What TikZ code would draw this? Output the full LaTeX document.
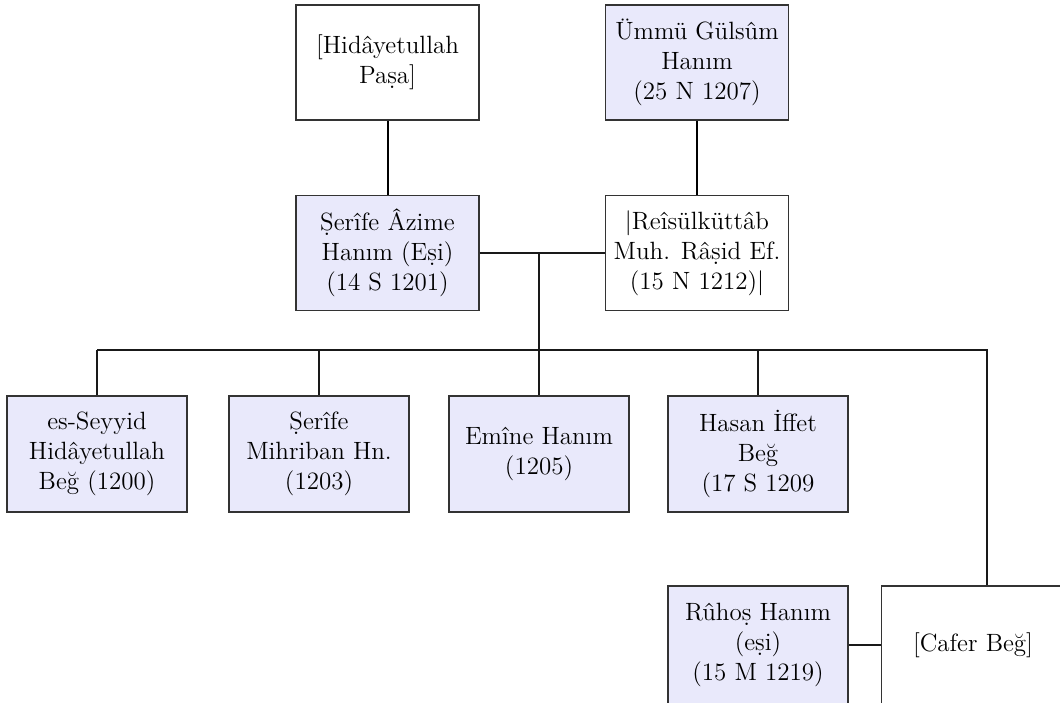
\documentclass[tikz,border=0pt]{standalone}
\usepackage{tikz}
\usetikzlibrary{positioning}
\definecolor{lav}{HTML}{E9E9FB}
\definecolor{edge}{HTML}{333333}
\tikzset{
  pbox/.style={draw=edge,line width=0.65pt,fill=white,align=center,inner sep=0pt,
    minimum width=91.5pt,minimum height=57.5pt,font=\fontsize{12.5}{15}\selectfont},
  phl/.style={pbox,fill=lav},
  kbox/.style={phl,minimum width=90pt,minimum height=58pt},
  tie/.style={line width=0.65pt,draw=black!90},
  kin/.style={line width=1pt,draw=black}
}
\begin{document}
\begin{tikzpicture}[x=0.5pt,y=-0.5pt]
  \useasboundingbox (0,0) rectangle (1060,702);
  \clip (0,0) rectangle (1060,702);
  \node[pbox] (hpasa) at (387.5,62.5) {[Hidâyetullah\\Paṣa]};
  \node[phl] (ummu) at (697,62.5) {Ümmü Gülsûm\\Hanım\\(25 N 1207)};
  \node[phl] (azime) at (387.5,253) {Ṣerîfe Âzime\\Hanım (Eṣi)\\(14 S 1201)};
  \node[pbox] (rasid) at (697,253) {|Reîsülküttâb\\Muh. Râṣid Ef.\\(15 N 1212)|};
  \draw[kin] (hpasa) -- (azime);
  \draw[kin] (ummu) -- (rasid);
  \draw[tie] (azime) -- (rasid);
  % children
  \node[kbox] (seyyid) at (97,454) {es-Seyyid\\Hidâyetullah\\Beğ (1200)};
  \node[kbox] (mihriban) at (319,454) {Ṣerîfe\\Mihriban Hn.\\(1203)};
  \node[kbox] (emine) at (539,454) {Emîne Hanım\\(1205)};
  \node[kbox] (iffet) at (758,454) {Hasan İffet\\Beğ\\(17 S 1209};
  \node[kbox,minimum height=59pt] (ruhos) at (758,645) {Rûhoṣ Hanım\\(eṣi)\\(15 M 1219)};
  \node[pbox,minimum height=59pt] (cafer) at (973,645) {[Cafer Beğ]};
  \coordinate (wed) at (539,253);
  \coordinate (bar) at (539,350);
  \coordinate (cdrop) at (987,350);
  \draw[tie] (wed) -- (bar);
  \draw[tie] (seyyid.north |- bar) -- (cdrop) -- (cdrop |- cafer.north);
  \foreach \kid in {seyyid,mihriban,emine,iffet}
    \draw[tie] (\kid.north) -- (\kid.north |- bar);
  \draw[tie] (ruhos) -- (cafer);
\end{tikzpicture}
\end{document}
